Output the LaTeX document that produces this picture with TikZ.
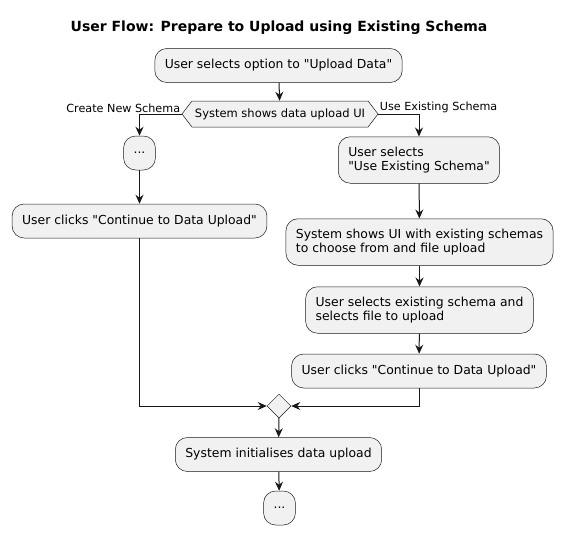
\documentclass[tikz,border=0pt]{standalone}
\usepackage{fontspec}
\setmainfont{DejaVu Sans}[Ligatures=TeXOff]
\usetikzlibrary{arrows.meta,shapes.geometric,shapes.symbols}
\definecolor{actfill}{HTML}{F1F1F1}
\definecolor{actline}{HTML}{181818}
\begin{document}
\begin{tikzpicture}[x=1pt,y=-1pt,>={Stealth[length=9pt,width=8pt,inset=3pt]},
  act/.style={draw=actline,line width=0.5pt,fill=actfill,rounded corners=12pt,minimum height=34pt,inner xsep=10pt,inner ysep=10pt,align=left,font=\fontsize{12.4}{14.5}\selectfont},
  cond/.style={draw=actline,line width=0.5pt,fill=actfill,signal,signal to=west and east,signal pointer angle=105,minimum height=26pt,inner xsep=3pt,font=\fontsize{11.5}{13}\selectfont},
  merge/.style={draw=actline,line width=0.5pt,fill=actfill,diamond,minimum size=24pt,inner sep=0pt},
  flow/.style={->,draw=actline,line width=1pt},
  lbl/.style={font=\fontsize{11.2}{13}\selectfont,inner sep=1pt}]
\useasboundingbox (0,0) rectangle (562,535);
\node[font=\bfseries\fontsize{14}{16}\selectfont] (title) at (279,28) {User Flow: Prepare to Upload using Existing Schema};
\node[act] (start) at (278.5,65.5) {User selects option to "Upload Data"};
\node[cond] (ui) at (280,114) {System shows data upload UI};
% left branch
\node[act] (dots1) at (139.5,153) {...};
\node[act] (clickL) at (139.5,221) {User clicks "Continue to Data Upload"};
% right branch
\node[act] (selU) at (419,160) {User selects\\"Use Existing Schema"};
\node[act] (showUI) at (419.5,242) {System shows UI with existing schemas\\to choose from and file upload};
\node[act] (selS) at (419.5,310) {User selects existing schema and\\selects file to upload};
\node[act] (clickR) at (419,371) {User clicks "Continue to Data Upload"};
\node[merge] (join) at (279,406) {};
\node[act] (init) at (278.5,454.5) {System initialises data upload};
\node[act] (dots2) at (279.5,508) {...};
\draw[flow] (start) -- (ui);
\draw[flow] (ui.west) node[lbl,above left] {Create New Schema} -| (dots1);
\draw[flow] (ui.east) node[lbl,above right] {Use Existing Schema} -| (selU);
\draw[flow] (dots1) -- (clickL);
\draw[flow] (selU) -- (showUI);
\draw[flow] (showUI) -- (selS);
\draw[flow] (selS) -- (clickR);
\draw[flow] (clickL) |- (join);
\draw[flow] (clickR) |- (join);
\draw[flow] (join) -- (init);
\draw[flow] (init) -- (dots2);
\end{tikzpicture}
\end{document}
